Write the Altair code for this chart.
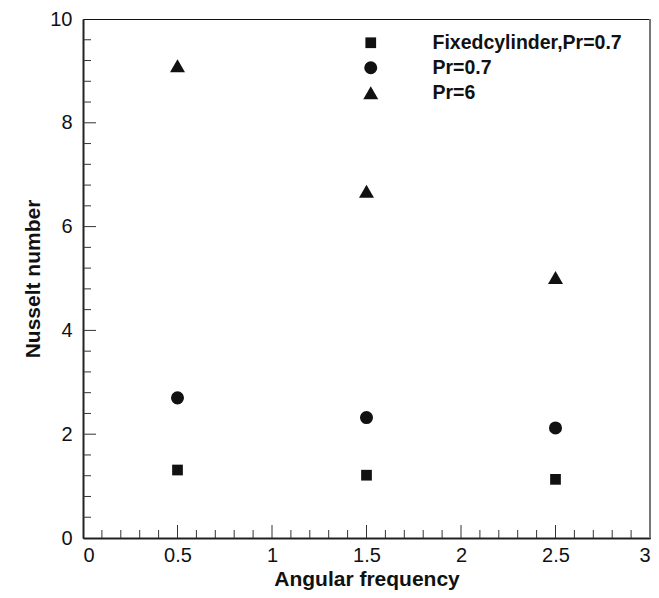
import altair as alt
import pandas as pd

# ---- data ----
freq = [0.5, 1.5, 2.5]
series_names = ["Fixedcylinder,Pr=0.7", "Pr=0.7", "Pr=6"]
nu_fixed = [1.31, 1.21, 1.13]
nu_pr07 = [2.70, 2.32, 2.12]
nu_pr6 = [9.10, 6.68, 5.02]

x_major = [0.5, 1.0, 1.5, 2.0, 2.5]
x_minor = [0.1, 0.2, 0.3, 0.4, 0.6, 0.7, 0.8, 0.9, 1.1, 1.2, 1.3, 1.4,
           1.6, 1.7, 1.8, 1.9, 2.1, 2.2, 2.3, 2.4, 2.6, 2.7, 2.8, 2.9]
y_major = [2, 4, 6, 8]
y_minor = [0.4, 0.8, 1.2, 1.6, 2.4, 2.8, 3.2, 3.6, 4.4, 4.8, 5.2, 5.6,
           6.4, 6.8, 7.2, 7.6, 8.4, 8.8, 9.2, 9.6]
x_labels = [0, 0.5, 1, 1.5, 2, 2.5, 3]
y_labels = [0, 2, 4, 6, 8, 10]

rows = []
for name, vals in zip(series_names, [nu_fixed, nu_pr07, nu_pr6]):
    for f, v in zip(freq, vals):
        rows.append({"series": name, "freq": f, "nu": v})
df = pd.DataFrame(rows)

W, H = 567, 519
FONT = "Liberation Sans"
INK = "#111111"

xs = alt.Scale(domain=[0, 3], nice=False, zero=False)
ys = alt.Scale(domain=[0, 10], nice=False, zero=False)

legend = alt.Legend(
    orient="none", legendX=278, legendY=14, title=None,
    labelFont=FONT, labelFontSize=19.5, labelFontWeight="bold", labelColor=INK,
    labelOffset=52, rowPadding=4, symbolFillColor=INK, symbolStrokeColor=INK,
    symbolOpacity=1, symbolStrokeWidth=0, padding=0, labelLimit=400,
)

axis_style = dict(
    tickSize=0, grid=False, domainColor="#222222", domainWidth=2,
    labelFont=FONT, labelFontSize=20, labelColor=INK,
    titleFont=FONT, titleFontSize=21, titleFontWeight="bold", titleColor=INK,
)

points = alt.Chart(df).mark_point(filled=True, opacity=1, color=INK).encode(
    x=alt.X("freq:Q", scale=xs, axis=alt.Axis(
        values=x_labels, format="~g", title="Angular frequency",
        labelPadding=7, titlePadding=3, **axis_style,
    )),
    y=alt.Y("nu:Q", scale=ys, axis=alt.Axis(
        values=y_labels, format="d", title="Nusselt number",
        labelPadding=11, titlePadding=6, **axis_style,
    )),
    shape=alt.Shape("series:N", scale=alt.Scale(
        domain=series_names, range=["square", "circle", "triangle-up"]), legend=legend),
    size=alt.Size("series:N", scale=alt.Scale(
        domain=series_names, range=[115, 225, 225]), legend=legend),
)

def xticks(vals, length):
    return alt.Chart(pd.DataFrame({"v": vals})).mark_rule(color="#333333", strokeWidth=1).encode(
        x=alt.X("v:Q", scale=xs), y=alt.value(H), y2=alt.value(H - length))

def yticks(vals, length):
    return alt.Chart(pd.DataFrame({"v": vals})).mark_rule(color="#333333", strokeWidth=1).encode(
        y=alt.Y("v:Q", scale=ys), x=alt.value(0), x2=alt.value(length))

right_edge = alt.Chart(pd.DataFrame({"v": [0]})).mark_rule(color="#777777", strokeWidth=2).encode(
    x=alt.value(W), y=alt.value(0), y2=alt.value(H))

chart = alt.layer(
    xticks(x_minor, 8), xticks(x_major, 13), yticks(y_minor, 8), yticks(y_major, 13),
    right_edge, points,
).properties(
    width=W, height=H,
    autosize=alt.AutoSizeParams(type="none"),
    padding={"left": 75, "top": 11, "right": 1, "bottom": 52},
    background="white",
).configure_view(
    stroke="#111111", strokeWidth=1
)

chart.save("out.html", embed_options={"renderer": "svg", "actions": False})
